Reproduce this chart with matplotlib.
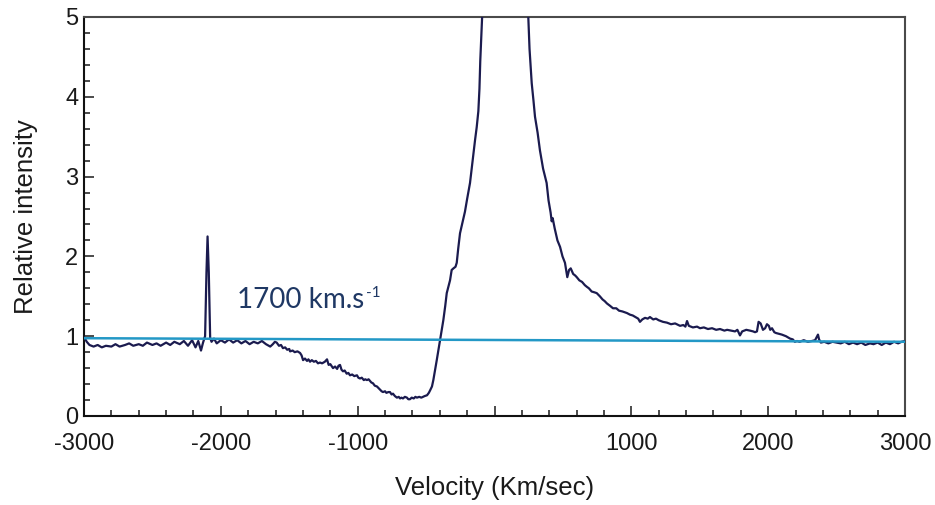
import matplotlib
matplotlib.use("Agg")
import matplotlib.pyplot as plt
from matplotlib.ticker import FixedLocator, MultipleLocator, FuncFormatter

# ---- data ----
velocity = [
    -3000, -2980, -2960, -2930, -2900, -2870, -2840, -2800, -2770, -2740,
    -2700, -2670, -2640, -2600, -2570, -2540, -2500, -2470, -2440, -2400,
    -2370, -2340, -2300, -2270, -2240, -2210, -2185, -2165, -2145, -2130,
    -2115, -2105, -2097, -2088, -2078, -2068, -2050, -2030, -2000, -1970,
    -1940, -1910, -1880, -1850, -1820, -1790, -1760, -1730, -1700, -1670,
    -1639, -1620, -1605, -1592, -1575, -1560, -1546, -1530, -1515, -1500,
    -1494, -1475, -1460, -1440, -1421, -1410, -1399, -1385, -1370, -1360,
    -1348, -1335, -1320, -1305, -1290, -1275, -1260, -1240, -1224, -1212,
    -1200, -1180, -1165, -1150, -1140, -1129, -1118, -1107, -1095, -1080,
    -1068, -1056, -1040, -1025, -1005, -995, -983, -970, -955, -945,
    -932, -920, -910, -900, -888, -875, -859, -848, -837, -825,
    -815, -800, -790, -776, -764, -752, -742, -728, -713, -700,
    -690, -680, -669, -655, -640, -630, -618, -605, -590, -578,
    -567, -550, -535, -523, -510, -493, -480, -471, -457, -447,
    -422, -398, -374, -360, -349, -340, -325,
    -313, -300, -285, -276, -265, -252, -235, -216, -200, -179,
    -160, -142, -130, -118, -110, -104, -95, -88, -60, 80,
    220, 247, 256, 272, 285, 296, 315, 332, 355, 381,
    395, 410, 418, 425, 440, 460, 479, 497, 515, 532,
    545, 557, 575, 590, 601, 620, 640, 660, 674, 690,
    710, 730, 747, 770, 790, 805, 822, 845, 866, 890,
    910, 935, 968, 990, 1010, 1030, 1050, 1063, 1080, 1100,
    1120, 1136, 1160, 1180, 1200, 1231, 1260, 1290, 1320, 1356,
    1380, 1395, 1407, 1420, 1450, 1480, 1502, 1530, 1560, 1590,
    1620, 1648, 1680, 1700, 1730, 1758, 1775, 1794, 1810, 1840,
    1867, 1890, 1904, 1918, 1930, 1945, 1962, 1978, 1991, 2005,
    2015, 2028, 2045, 2057, 2080, 2100, 2130, 2160, 2180, 2195,
    2211, 2230, 2260, 2290, 2320, 2343, 2355, 2364, 2372, 2385,
    2410, 2440, 2470, 2500, 2530, 2560, 2590, 2620, 2650, 2680,
    2710, 2744, 2770, 2800, 2830, 2860, 2890, 2920, 2950, 2975,
    3000,
]
intensity = [
    0.99, 0.93, 0.89, 0.87, 0.89, 0.86, 0.88, 0.87, 0.90, 0.87,
    0.89, 0.91, 0.88, 0.90, 0.88, 0.92, 0.89, 0.91, 0.88, 0.92,
    0.89, 0.93, 0.90, 0.94, 0.88, 0.95, 0.86, 0.94, 0.82, 0.92,
    1.00, 1.80, 2.25, 1.80, 0.98, 0.93, 0.97, 0.91, 0.95, 0.92,
    0.96, 0.92, 0.95, 0.91, 0.94, 0.90, 0.93, 0.91, 0.94, 0.90,
    0.87, 0.90, 0.93, 0.92, 0.88, 0.89, 0.85, 0.86, 0.83, 0.84,
    0.81, 0.82, 0.80, 0.81, 0.79, 0.76, 0.70, 0.72, 0.69, 0.71,
    0.68, 0.70, 0.68, 0.69, 0.66, 0.67, 0.66, 0.68, 0.71, 0.64,
    0.65, 0.60, 0.62, 0.59, 0.63, 0.64, 0.58, 0.56, 0.57, 0.53,
    0.54, 0.51, 0.52, 0.50, 0.51, 0.48, 0.47, 0.48, 0.45, 0.46,
    0.45, 0.46, 0.44, 0.42, 0.41, 0.38, 0.37, 0.35, 0.33, 0.31,
    0.30, 0.31, 0.29, 0.30, 0.30, 0.27, 0.28, 0.25, 0.23, 0.24,
    0.22, 0.23, 0.22, 0.24, 0.23, 0.21, 0.21, 0.23, 0.22, 0.24,
    0.23, 0.24, 0.23, 0.24, 0.25, 0.26, 0.29, 0.32, 0.37, 0.45,
    0.70, 0.95, 1.20, 1.38, 1.54, 1.60, 1.70,
    1.83, 1.85, 1.87, 1.92, 2.10, 2.29, 2.42, 2.56, 2.72, 2.92,
    3.20, 3.46, 3.62, 3.82, 4.10, 4.45, 4.80, 5.10, 6.50, 8.00,
    6.50, 5.00, 4.60, 4.17, 3.95, 3.75, 3.55, 3.33, 3.10, 2.92,
    2.70, 2.55, 2.44, 2.48, 2.35, 2.20, 2.12, 2.00, 1.92, 1.74,
    1.83, 1.85, 1.78, 1.76, 1.74, 1.70, 1.68, 1.64, 1.62, 1.60,
    1.56, 1.55, 1.54, 1.50, 1.46, 1.44, 1.41, 1.38, 1.35, 1.35,
    1.32, 1.31, 1.29, 1.27, 1.26, 1.24, 1.22, 1.18, 1.21, 1.23,
    1.22, 1.24, 1.21, 1.22, 1.20, 1.18, 1.17, 1.15, 1.16, 1.13,
    1.14, 1.12, 1.19, 1.13, 1.11, 1.12, 1.10, 1.11, 1.09, 1.10,
    1.08, 1.09, 1.07, 1.08, 1.07, 1.06, 1.08, 1.01, 1.06, 1.08,
    1.07, 1.06, 1.05, 1.06, 1.18, 1.16, 1.08, 1.10, 1.15, 1.13,
    1.08, 1.10, 1.05, 1.04, 1.03, 1.02, 1.00, 0.97, 0.96, 0.93,
    0.94, 0.93, 0.95, 0.93, 0.94, 0.95, 0.99, 1.02, 0.96, 0.92,
    0.93, 0.91, 0.93, 0.92, 0.91, 0.93, 0.90, 0.92, 0.90, 0.92,
    0.89, 0.91, 0.90, 0.92, 0.89, 0.92, 0.90, 0.93, 0.91, 0.93,
    0.94,
]
continuum_v = [-3000, 3000]
continuum_i = [0.975, 0.93]

x_ticks = [-3000, -2000, -1000, 0, 1000, 2000, 3000]
y_ticks = [0, 1, 2, 3, 4, 5]
annotation_main = "1700 km.s"
annotation_sup = "-1"

# ---- figure ----
plt.rcParams['font.family'] = ['Liberation Sans', 'DejaVu Sans']
fig = plt.figure(figsize=(9.35, 5.05), dpi=100)
ax = fig.add_axes([84 / 935, 1 - 416 / 505, 821 / 935, 399 / 505])

ax.plot(velocity, intensity, color='#1b1b4f', lw=1.6, zorder=3)
ax.plot(continuum_v, continuum_i, color='#2398c6', lw=1.8, zorder=4)

ax.set_xlim(-3000, 3000)
ax.set_ylim(0, 5)

ax.xaxis.set_major_locator(FixedLocator(x_ticks))
ax.xaxis.set_major_formatter(FuncFormatter(lambda v, p: '' if v == 0 else f'{int(v)}'))
ax.xaxis.set_minor_locator(MultipleLocator(200))
ax.yaxis.set_major_locator(FixedLocator(y_ticks))
ax.yaxis.set_minor_locator(MultipleLocator(0.2))

ax.tick_params(which='both', direction='in', top=False, right=False,
               colors='#1a1a1a', width=1.1)
ax.tick_params(which='major', length=7.2, labelsize=17)
ax.tick_params(which='minor', length=4.3)
ax.tick_params(axis='x', which='major', pad=12.5)
ax.tick_params(axis='y', which='major', pad=4)

for s in ['left', 'bottom']:
    ax.spines[s].set_color('#111111')
    ax.spines[s].set_linewidth(1.5)
for s in ['top', 'right']:
    ax.spines[s].set_color('#4a4a4a')
    ax.spines[s].set_linewidth(1.5)

ax.set_xlabel('Velocity (Km/sec)', fontsize=18.5, color='#1a1a1a')
ax.set_ylabel('Relative intensity', fontsize=18.5, color='#1a1a1a')
ax.xaxis.set_label_coords(0.5, -0.150)
ax.yaxis.set_label_coords(-0.056, 0.5)

t = ax.text(-1882, 1.35, annotation_main, fontsize=20, color='#1f3864',
            family=['Lato', 'DejaVu Sans'], va='baseline', ha='left', zorder=5)
ax.annotate(annotation_sup, xy=(1, 0), xycoords=t, xytext=(1, 12),
            textcoords='offset points', fontsize=11, color='#1f3864',
            family=['Lato', 'DejaVu Sans'], va='baseline', ha='left', zorder=5)

fig.savefig('out.png', dpi=100)
